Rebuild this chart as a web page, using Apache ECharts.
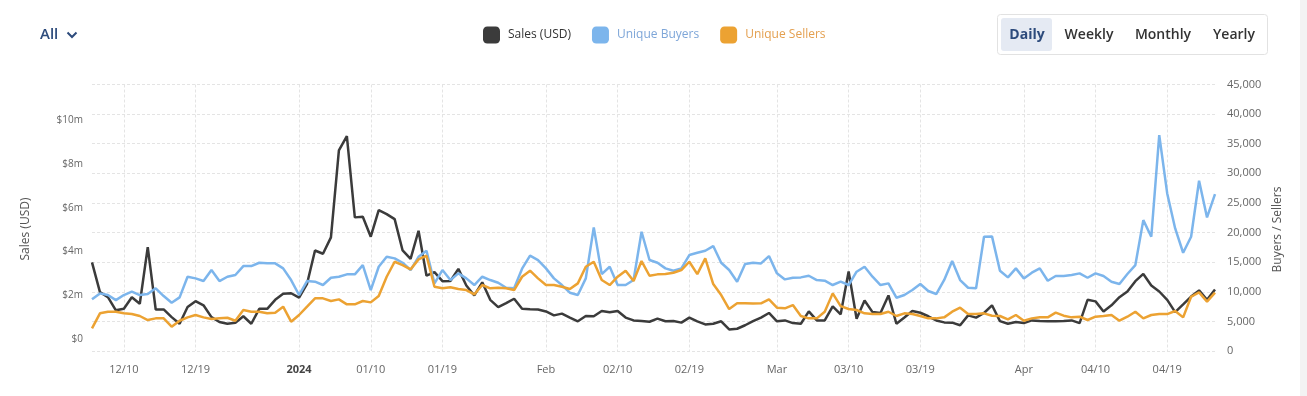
<!DOCTYPE html>
<html>
<head>
<meta charset="utf-8">
<script src="https://cdn.jsdelivr.net/npm/echarts@6/dist/echarts.min.js"></script>
<style>
html,body{margin:0;padding:0;background:#fff;}
#chart{width:1307px;height:396px;}
</style>
</head>
<body>
<div id="chart"></div>
<script>
// ---- data ----
const startDate = '2023-12-06';
// Sales in USD millions
const sales = [3.51,2.15,1.92,1.32,1.39,1.92,1.62,4.2,1.36,1.36,1.01,0.71,1.47,1.74,1.55,1.01,0.79,0.71,0.75,1.05,
0.71,1.39,1.39,1.8,2.08,2.1,1.9,2.53,4.05,3.9,4.65,8.62,9.27,5.56,5.59,4.68,5.89,5.71,5.48,4.05,
3.67,4.95,2.9,3.06,2.65,2.66,3.21,2.45,2.0,2.6,1.8,1.47,1.65,1.85,1.39,1.37,1.36,1.27,1.09,1.17,
0.99,0.82,1.06,1.05,1.29,1.23,1.29,0.99,0.86,0.83,0.8,0.94,0.82,0.83,0.76,0.99,0.82,0.68,0.71,0.82,
0.45,0.48,0.64,0.83,0.99,1.2,0.82,0.86,0.74,0.71,1.27,0.86,0.86,1.5,1.14,3.09,0.94,1.77,1.24,1.2,
2.0,0.71,0.99,1.29,1.21,1.05,0.86,0.77,0.76,0.64,1.09,0.99,1.2,1.55,0.83,0.71,0.79,0.74,0.86,0.83,
0.82,0.82,0.83,0.86,0.74,1.8,1.73,1.27,1.55,1.92,2.18,2.65,2.98,2.45,2.18,1.8,1.24,1.59,1.95,2.23,
1.8,2.27];
const buyers = [8720,9730,9450,8600,9450,10010,9450,9620,10580,9280,8150,9060,12540,12260,11810,13670,11810,12540,12830,14340,
14340,14900,14800,14800,13950,11980,9450,11810,11700,11140,12370,12540,12940,12940,14510,10290,14230,15910,15640,14900,
13670,15910,16930,11420,13670,11980,13110,12260,11140,12540,11980,11530,10680,10590,13900,16090,15360,13950,12260,11140,
9840,9450,12260,20870,12990,14230,11140,11140,11980,20140,15360,14900,13950,13560,13950,16200,16590,16930,17720,14900,
13670,11700,14680,14900,14790,16030,13110,12090,12370,12430,12710,11980,11870,11140,11700,11140,13390,14230,12540,11140,
11420,9000,9450,10290,11310,10130,9620,12000,15190,11980,10680,10580,19290,19350,13560,12430,13950,12260,13220,13950,
11870,12660,12660,12830,13110,12370,13110,12660,11700,11310,13000,14510,22100,19290,36450,26610,20700,16590,19290,28740,
22560,26490];
const sellers = [3830,6360,6630,6630,6360,6240,5910,5230,5510,5510,4100,5110,5680,6080,5680,5400,5510,5620,5110,6920,
6630,6630,6360,6470,7480,4950,6080,7480,8890,8890,8440,8720,7880,7880,8440,8210,9280,12540,15070,14510,
13780,15470,16090,10850,10580,10750,10460,10290,9560,11140,10580,10690,10580,10290,12540,13560,12260,11140,11140,10850,
10460,11420,14230,15070,11980,11140,12540,13560,11810,15190,12710,12940,12990,13220,13670,15070,12990,15640,11310,9450,
7090,8050,8050,8000,8050,8720,7310,7200,7760,5910,5510,5510,6630,9730,7590,7090,6920,6360,6240,6240,
6630,5910,6360,6240,5910,5510,5510,5680,6630,7310,6240,6240,6360,5960,5910,5340,6080,5110,5510,5680,
5680,6470,5960,5680,5790,5230,5790,5910,6080,5110,5790,6630,5510,6080,6240,6240,6750,5680,9160,9900,
8330,9850];
const tickDates = ['2023-12-10','2023-12-19','2024-01-01','2024-01-10','2024-01-19','2024-02-01','2024-02-10','2024-02-19','2024-03-01','2024-03-10','2024-03-19','2024-04-01','2024-04-10','2024-04-19'];
const tickTexts = ['12/10','12/19','2024','01/10','01/19','Feb','02/10','02/19','Mar','03/10','03/19','Apr','04/10','04/19'];
const salesTicks = [0,2,4,6,8,10];
const buyerTicks = [0,5000,10000,15000,20000,25000,30000,35000,40000,45000];

// categories: consecutive days from startDate
const dates = [];
{
  const p = startDate.split('-').map(Number);
  const t0 = Date.UTC(p[0], p[1]-1, p[2]);
  for (let i = 0; i < sales.length; i++) {
    const d = new Date(t0 + i*86400000);
    dates.push(d.getUTCFullYear() + '-' + String(d.getUTCMonth()+1).padStart(2,'0') + '-' + String(d.getUTCDate()).padStart(2,'0'));
  }
}

const FONT = 'Open Sans';
const C_SALES = '#3b3b3b', C_BUY = '#7cb5ec', C_SELL = '#eca232';
const isTick = (idx, val) => tickDates.indexOf(val) >= 0;

const chart = echarts.init(document.getElementById('chart'), null, {renderer:'canvas'});
chart.setOption({
  animation: false,
  textStyle: {fontFamily: FONT},
  grid: {left: 92, right: 92, top: 84.5, bottom: 45, containLabel: false},
  legend: {
    left: 483, top: 26.5, padding: 0, itemWidth: 17, itemHeight: 17, itemGap: 21, icon: 'roundRect',
    textStyle: {fontFamily: FONT, fontSize: 12, padding: [0,0,0,3]},
    data: [
      {name: 'Sales (USD)', textStyle: {color: '#333'}},
      {name: 'Unique Buyers', textStyle: {color: '#7ea6d8'}},
      {name: 'Unique Sellers', textStyle: {color: '#e4a050'}}
    ]
  },
  xAxis: {
    type: 'category', data: dates, boundaryGap: false,
    axisLine: {show: false}, axisTick: {show: false},
    axisLabel: {
      interval: isTick, margin: 13, color: '#666', fontSize: 11, fontFamily: FONT,
      formatter: v => { const t = tickTexts[tickDates.indexOf(v)]; return t === '2024' ? '{b|2024}' : t; },
      rich: {b: {fontWeight: 'bold', color: '#444', fontSize: 11, fontFamily: FONT}}
    },
    splitLine: {show: true, interval: isTick, lineStyle: {color: '#e4e4e4', type: [3,2], width: 1}}
  },
  yAxis: [
    {
      type: 'value', position: 'left',
      min: -0.534, max: 11.62,
      axisLine: {show: false}, axisTick: {show: false}, splitLine: {show: false},
      axisLabel: {
        customValues: salesTicks, margin: 9, color: '#666', fontSize: 10, fontFamily: FONT,
        formatter: v => '$' + v + (v === 0 ? '' : 'm')
      }
    },
    {
      type: 'value', position: 'right',
      min: 0, max: 45000, interval: 5000,
      axisLine: {show: false}, axisTick: {show: false},
      axisLabel: {
        customValues: buyerTicks, margin: 12, color: '#666', fontSize: 11, fontFamily: FONT,
        formatter: v => v.toLocaleString('en-US')
      },
      splitLine: {show: true, lineStyle: {color: '#e4e4e4', type: [3,2], width: 1}}
    }
  ],
  series: [
    {name: 'Sales (USD)', type: 'line', yAxisIndex: 0, data: sales, showSymbol: false,
     color: C_SALES, lineStyle: {width: 2.5, color: C_SALES}},
    {name: 'Unique Buyers', type: 'line', yAxisIndex: 1, data: buyers, showSymbol: false,
     color: C_BUY, lineStyle: {width: 2.5, color: C_BUY}},
    {name: 'Unique Sellers', type: 'line', yAxisIndex: 1, data: sellers, showSymbol: false,
     color: C_SELL, lineStyle: {width: 2.5, color: C_SELL}}
  ],
  graphic: [
    {type: 'rect', shape: {x: 1300, y: 0, width: 7, height: 396}, style: {fill: '#f3f3f3'}, silent: true},
    {type: 'text', x: 40, y: 35, style: {text: 'All', fontFamily: FONT, fontSize: 15, fontWeight: 600, fill: '#2d4b7c', verticalAlign: 'middle'}},
    {type: 'polyline', shape: {points: [[67.5,32.5],[72,37],[76.5,32.5]]}, style: {stroke: '#2d4b7c', lineWidth: 2, fill: null}},
    {type: 'rect', shape: {x: 997.5, y: 14.5, width: 270, height: 40, r: 3}, style: {fill: '#fff', stroke: '#e2e2e2', lineWidth: 1}},
    {type: 'rect', shape: {x: 1001, y: 18, width: 51, height: 33, r: 3}, style: {fill: '#e5eaf3'}},
    {type: 'text', x: 1027, y: 35, style: {text: 'Daily', fontFamily: FONT, fontSize: 14, fontWeight: 'bold', fill: '#2d4b7c', align: 'center', verticalAlign: 'middle'}},
    {type: 'text', x: 1089, y: 35, style: {text: 'Weekly', fontFamily: FONT, fontSize: 14, fontWeight: 600, fill: '#333', align: 'center', verticalAlign: 'middle'}},
    {type: 'text', x: 1163, y: 35, style: {text: 'Monthly', fontFamily: FONT, fontSize: 14, fontWeight: 600, fill: '#333', align: 'center', verticalAlign: 'middle'}},
    {type: 'text', x: 1234, y: 35, style: {text: 'Yearly', fontFamily: FONT, fontSize: 14, fontWeight: 600, fill: '#333', align: 'center', verticalAlign: 'middle'}},
    {type: 'text', x: 26, y: 229, rotation: Math.PI/2, style: {text: 'Sales (USD)', fontFamily: FONT, fontSize: 12, fill: '#555', align: 'center', verticalAlign: 'middle'}},
    {type: 'text', x: 1278, y: 229.5, rotation: Math.PI/2, style: {text: 'Buyers / Sellers', fontFamily: FONT, fontSize: 12, fill: '#555', align: 'center', verticalAlign: 'middle'}}
  ]
});
</script>
</body>
</html>
